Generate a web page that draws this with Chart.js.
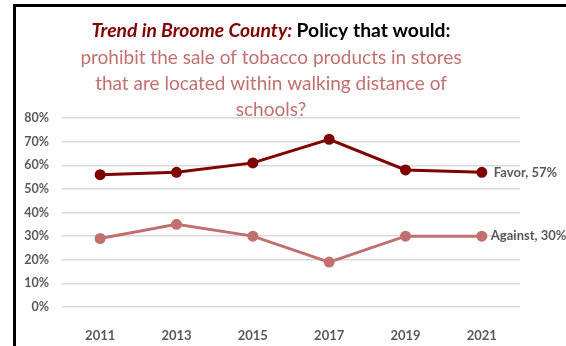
<!DOCTYPE html>
<html>
<head>
<meta charset="utf-8">
<script src="https://cdn.jsdelivr.net/npm/chart.js@4"></script>
<style>
  body { margin: 0; background: #fff; }
  #wrap { position: relative; width: 566px; height: 346px; }
  #frame {
    position: absolute; left: 13px; top: 4px; right: 0; bottom: 0;
    border-left: 3px solid #000; border-top: 3px solid #000;
    pointer-events: none;
  }
</style>
</head>
<body>
<div id="wrap">
  <canvas id="trendChart" width="566" height="346"></canvas>
  <div id="frame"></div>
</div>
<script>
const years = ['2011', '2013', '2015', '2017', '2019', '2021'];
const favor = [56, 57, 61, 71, 58, 57];
const against = [29, 35, 30, 19, 30, 30];
const yTicks = [0, 10, 20, 30, 40, 50, 60, 70, 80];

const titleLines = [
  [
    { text: 'Trend in Broome County: ', color: '#7f0000', font: 'italic bold 19.3px Lato' },
    { text: 'Policy that would:', color: '#000000', font: 'bold 19.3px Lato' }
  ],
  [{ text: 'prohibit the sale of tobacco products in stores', color: '#c0716f', font: '19px Lato' }],
  [{ text: 'that are located within walking distance of', color: '#c0716f', font: '19px Lato' }],
  [{ text: 'schools?', color: '#c0716f', font: '19px Lato' }]
];

// title is drawn over the top of the plot, like the original slide
const titlePlugin = {
  id: 'titlePlugin',
  afterDraw(chart) {
    const ctx = chart.ctx;
    const centerX = 271;
    const lineY = [31, 58, 84, 110];
    ctx.save();
    ctx.textBaseline = 'middle';
    ctx.textAlign = 'left';
    titleLines.forEach((parts, i) => {
      let total = 0;
      parts.forEach(p => { ctx.font = p.font; total += ctx.measureText(p.text).width; });
      let x = centerX - total / 2;
      parts.forEach(p => {
        ctx.font = p.font;
        ctx.fillStyle = p.color;
        ctx.fillText(p.text, x, lineY[i]);
        x += ctx.measureText(p.text).width;
      });
    });
    ctx.restore();
  }
};

// "Favor, 57%" style labels next to the last point of each line
const endLabels = {
  id: 'endLabels',
  afterDatasetsDraw(chart) {
    const ctx = chart.ctx;
    ctx.save();
    ctx.font = 'bold 13px Lato';
    ctx.fillStyle = '#595959';
    ctx.textBaseline = 'middle';
    chart.data.datasets.forEach((ds, i) => {
      const meta = chart.getDatasetMeta(i);
      const last = meta.data[meta.data.length - 1];
      const value = ds.data[ds.data.length - 1];
      ctx.fillText(ds.label + ', ' + value + '%', last.x + ds.labelGap, last.y);
    });
    ctx.restore();
  }
};

const ctx = document.getElementById('trendChart').getContext('2d');

new Chart(ctx, {
  type: 'line',
  data: {
    labels: years,
    datasets: [
      {
        label: 'Favor',
        data: favor,
        borderColor: '#7f0000',
        backgroundColor: '#7f0000',
        borderWidth: 3,
        pointRadius: 4,
        pointHoverRadius: 4,
        tension: 0,
        clip: false,
        labelGap: 12
      },
      {
        label: 'Against',
        data: against,
        borderColor: '#c0716f',
        backgroundColor: '#c0716f',
        borderWidth: 3,
        pointRadius: 4,
        pointHoverRadius: 4,
        tension: 0,
        clip: false,
        labelGap: 9
      }
    ]
  },
  options: {
    responsive: false,
    animation: false,
    layout: { padding: { top: 118, right: 46, left: 0, bottom: 0 } },
    plugins: {
      legend: { display: false },
      title: { display: false },
      tooltip: { enabled: false }
    },
    scales: {
      x: {
        offset: true,
        grid: { display: false },
        border: { display: false },
        ticks: {
          color: '#595959',
          font: { family: 'Lato', size: 13, weight: 'bold' },
          padding: 13
        },
        afterFit(scale) { scale.height = 39; }
      },
      y: {
        min: 0,
        max: 80,
        afterBuildTicks(scale) { scale.ticks = yTicks.map(v => ({ value: v })); },
        grid: { color: '#d9d9d9', lineWidth: 1.5, drawTicks: false },
        border: { display: false },
        ticks: {
          color: '#595959',
          font: { family: 'Lato', size: 12.5, weight: 'bold' },
          padding: 13,
          callback: function (value) {
            return value + '%';
          }
        },
        afterFit(scale) { scale.width = 62; }
      }
    }
  },
  plugins: [titlePlugin, endLabels]
});
</script>
</body>
</html>
